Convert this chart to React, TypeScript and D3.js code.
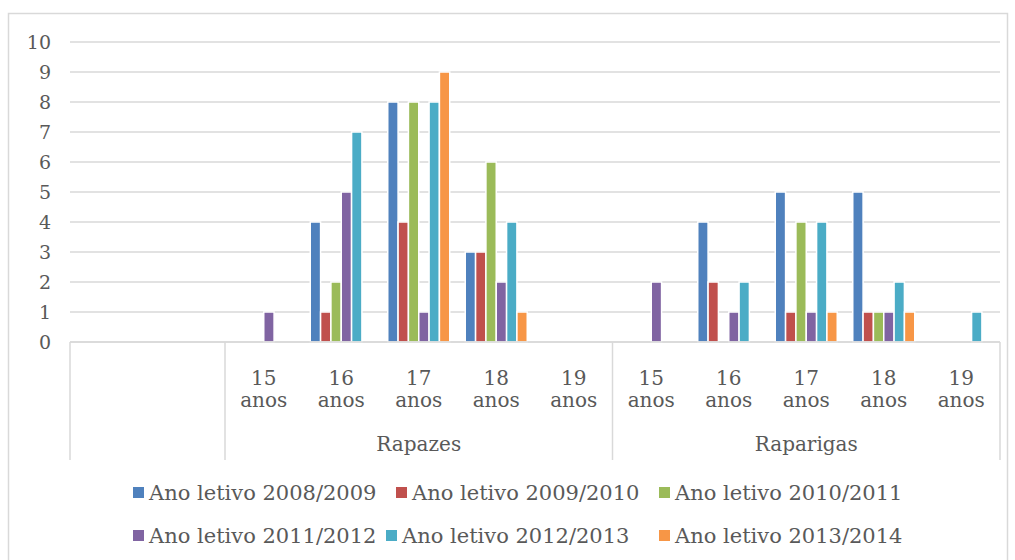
import React from "react";
import * as d3 from "d3";

const groups = ["Rapazes", "Raparigas"];
const ages = ["15 anos", "16 anos", "17 anos", "18 anos", "19 anos"];
const blankSlots = ["", ""];
const seriesNames = [
  "Ano letivo 2008/2009",
  "Ano letivo 2009/2010",
  "Ano letivo 2010/2011",
  "Ano letivo 2011/2012",
  "Ano letivo 2012/2013",
  "Ano letivo 2013/2014",
];
const colors = ["#4F81BD", "#C0504D", "#9BBB59", "#8064A2", "#4BACC6", "#F79646"];
// values over Rapazes 15..19, Raparigas 15..19
const s2008 = [0, 4, 8, 3, 0, 0, 4, 5, 5, 0];
const s2009 = [0, 1, 4, 3, 0, 0, 2, 1, 1, 0];
const s2010 = [0, 2, 8, 6, 0, 0, 0, 4, 1, 0];
const s2011 = [1, 5, 1, 2, 0, 2, 1, 1, 1, 0];
const s2012 = [0, 7, 8, 4, 0, 0, 2, 4, 2, 1];
const s2013 = [0, 0, 9, 1, 0, 0, 0, 1, 1, 0];
const seriesValues = [s2008, s2009, s2010, s2011, s2012, s2013];
const yTicks = [0, 1, 2, 3, 4, 5, 6, 7, 8, 9, 10];

const FONT = "'DejaVu Serif', serif";
const TEXT = "#595959";
const GRID = "#D9D9D9";

export default function App() {
  const W = 1015, H = 560;
  const left = 70, right = 1000, top = 42, bottom = 342;
  const axisBottom = 460;

  const catKeys = [
    ...blankSlots.map((_, i) => `blank${i}`),
    ...groups.flatMap((g) => ages.map((a) => `${g}|${a}`)),
  ];
  const x = d3.scaleBand<string>().domain(catKeys).range([left, right]).padding(0);
  const inner = d3
    .scaleBand<string>()
    .domain(seriesNames)
    .range([0, x.bandwidth()])
    .paddingInner(0)
    .paddingOuter(0.75);
  const y = d3.scaleLinear().domain([0, 10]).range([bottom, top]);

  const dataKeys = groups.flatMap((g) => ages.map((a) => `${g}|${a}`));

  const groupBounds = [
    { label: "", start: x("blank0")!, end: x("blank1")! + x.bandwidth() },
    ...groups.map((g) => ({
      label: g,
      start: x(`${g}|${ages[0]}`)!,
      end: x(`${g}|${ages[ages.length - 1]}`)! + x.bandwidth(),
    })),
  ];

  const legendRows = [
    [
      { i: 0, x: 133 },
      { i: 1, x: 396 },
      { i: 2, x: 659 },
    ],
    [
      { i: 3, x: 133 },
      { i: 4, x: 386 },
      { i: 5, x: 659 },
    ],
  ];
  const legendY = [493, 536];

  return (
    <svg width={W} height={H} style={{ position: "absolute", left: 0, top: 0 }} fontFamily={FONT}>
      <rect x={0} y={0} width={W} height={H} fill="#fff" />
      <rect x={8.5} y={13.5} width={999} height={560} fill="none" stroke={GRID} strokeWidth={1.5} />
      {yTicks.map((t) => (
        <line key={t} x1={left} x2={right} y1={y(t)} y2={y(t)} stroke={GRID} strokeWidth={1.5} />
      ))}
      {yTicks.map((t) => (
        <text
          key={"l" + t}
          x={51}
          y={y(t)}
          textAnchor="end"
          dominantBaseline="central"
          fontSize={19}
          fill={TEXT}
        >
          {t}
        </text>
      ))}
      {seriesValues.map((vals, si) =>
        vals.map((v, ci) =>
          v > 0 ? (
            <rect
              key={`${si}-${ci}`}
              x={x(dataKeys[ci])! + inner(seriesNames[si])!}
              y={y(v)}
              width={inner.bandwidth()}
              height={y(0) - y(v)}
              fill={colors[si]}
              stroke="#fff"
              strokeWidth={1.5}
            />
          ) : null
        )
      )}
      <line x1={left} x2={right} y1={bottom} y2={bottom} stroke={GRID} strokeWidth={1.5} />
      {groupBounds.map((g, i) => (
        <line key={"gb" + i} x1={g.start} x2={g.start} y1={bottom} y2={axisBottom} stroke={GRID} strokeWidth={1.5} />
      ))}
      <line x1={right} x2={right} y1={bottom} y2={axisBottom} stroke={GRID} strokeWidth={1.5} />
      {dataKeys.map((k) => {
        const cx = x(k)! + x.bandwidth() / 2;
        const [num, word] = k.split("|")[1].split(" ");
        return (
          <g key={"c" + k}>
            <text x={cx} y={378} textAnchor="middle" dominantBaseline="central" fontSize={20} fill={TEXT}>
              {num}
            </text>
            <text x={cx} y={400} textAnchor="middle" dominantBaseline="central" fontSize={20} fill={TEXT}>
              {word}
            </text>
          </g>
        );
      })}
      {groupBounds
        .filter((g) => g.label)
        .map((g) => (
          <text
            key={"gl" + g.label}
            x={(g.start + g.end) / 2}
            y={444}
            textAnchor="middle"
            dominantBaseline="central"
            fontSize={20}
            fill={TEXT}
          >
            {g.label}
          </text>
        ))}
      {legendRows.map((row, ri) =>
        row.map((item) => (
          <g key={"lg" + item.i}>
            <rect x={item.x} y={legendY[ri] - 6} width={11} height={11} fill={colors[item.i]} />
            <text
              x={item.x + 16}
              y={legendY[ri]}
              dominantBaseline="central"
              fontSize={21}
              fill={TEXT}
            >
              {seriesNames[item.i]}
            </text>
          </g>
        ))
      )}
    </svg>
  );
}
